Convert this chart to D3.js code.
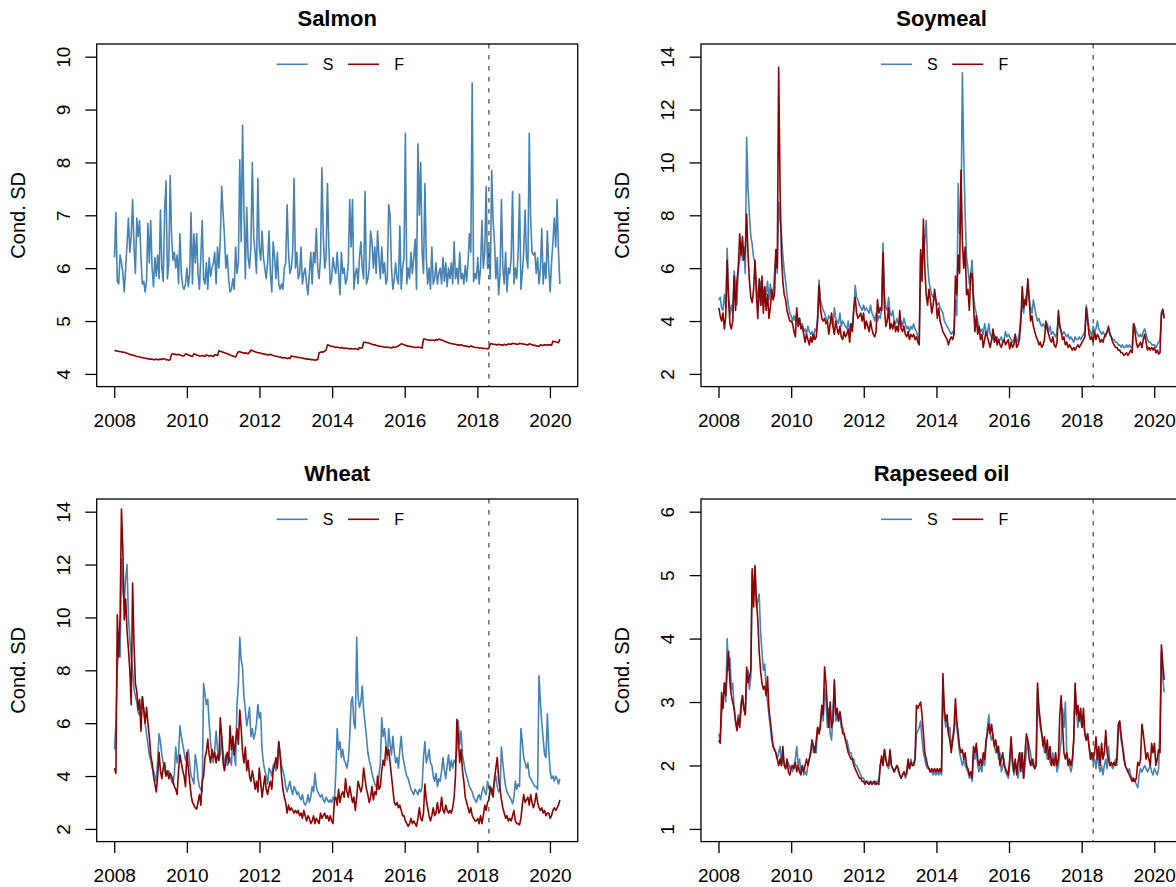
<!DOCTYPE html>
<html>
<head>
<meta charset="utf-8">
<script src="https://cdn.jsdelivr.net/npm/d3@7"></script>
<style>
  body { margin: 0; background: #fff; }
  svg { display: block; }
  text { font-family: "Liberation Sans", Arial, Helvetica, sans-serif; }
</style>
</head>
<body>
<svg id="chart" width="1176" height="887"></svg>
<script>
// Conditional standard deviation, spot (S) and futures (F), bi-weekly from 2008-01-04 to 2020-04-10.
// Each row below holds one year of observations (26 per row, 9 in the last row).

const salmonS = [
  6.2, 7.05, 5.75, 5.7, 6.25, 6.1, 5.9, 5.55, 6.0, 6.45, 6.95, 6.3, 6.6, 7.3, 6.4, 5.9, 6.95, 6.6, 6.9, 6.2, 5.7, 5.75, 5.55, 5.75, 6.85, 6.1,
  6.9, 6.0, 5.65, 6.2, 5.85, 6.25, 5.8, 7.1, 6.0, 5.75, 7.05, 7.65, 5.8, 6.1, 7.75, 6.6, 6.15, 6.3, 6.0, 6.25, 5.7, 6.65, 5.9, 5.65, 5.6, 5.7,
  6.0, 5.65, 5.9, 7.05, 5.7, 6.65, 6.1, 6.65, 5.9, 5.6, 6.2, 6.9, 5.8, 5.7, 6.1, 5.6, 6.2, 5.85, 6.0, 6.1, 6.3, 5.7, 6.4, 6.0, 6.55, 7.55,
  7.05, 6.6, 6.0, 6.25, 5.8, 5.55, 5.6, 5.8, 5.6, 6.4, 5.9, 6.1, 8.05, 6.5, 8.7, 7.1, 5.8, 7.15, 6.2, 6.0, 6.4, 8.0, 6.6, 6.3, 5.9, 7.7,
  6.4, 6.15, 6.7, 6.2, 6.0, 5.8, 6.1, 6.7, 5.9, 5.55, 6.5, 6.2, 5.8, 6.3, 5.7, 5.6, 5.7, 5.6, 6.0, 6.1, 7.2, 6.3, 5.9, 6.0, 6.3, 7.7,
  6.0, 6.3, 5.8, 5.9, 6.4, 5.7, 5.9, 6.0, 5.7, 5.5, 5.9, 6.3, 5.7, 6.3, 6.1, 6.75, 6.0, 5.8, 6.2, 7.9, 6.6, 6.0, 6.2, 7.6, 6.4, 5.7,
  5.8, 6.2, 6.0, 5.9, 6.3, 5.9, 5.5, 6.3, 5.9, 6.0, 5.7, 5.8, 6.1, 7.3, 6.4, 7.3, 5.6, 5.9, 6.0, 5.7, 6.2, 6.5, 6.0, 5.8, 7.45, 5.7,
  5.8, 6.0, 6.7, 6.5, 6.0, 6.4, 5.9, 6.7, 6.2, 5.8, 6.4, 5.9, 6.1, 5.7, 5.8, 7.2, 7.0, 6.0, 5.6, 5.8, 6.1, 5.8, 5.7, 6.8, 5.6, 6.0,
  6.2, 8.55, 5.7, 6.0, 5.8, 6.3, 5.9, 6.2, 6.55, 5.6, 8.35, 7.0, 8.0, 6.3, 5.9, 7.6, 6.2, 5.7, 6.0, 5.6, 6.4, 5.7, 5.8, 6.1, 5.7, 5.9,
  6.0, 5.7, 6.2, 5.75, 6.1, 5.65, 6.0, 5.8, 6.1, 5.7, 6.5, 5.8, 6.0, 5.7, 6.3, 5.8, 5.9, 5.7, 6.05, 5.75, 6.1, 6.65, 6.3, 9.5, 5.75, 5.9,
  5.8, 6.2, 5.7, 6.0, 6.9, 6.0, 6.3, 7.55, 6.0, 6.4, 5.8, 7.85, 6.9, 6.5, 5.8, 6.2, 5.5, 5.9, 7.3, 6.0, 5.7, 6.3, 5.55, 6.0, 5.9, 6.2,
  7.45, 5.7, 6.0, 5.8, 6.3, 7.4, 5.6, 5.9, 6.3, 7.1, 6.2, 6.0, 8.55, 6.9, 6.3, 6.25, 6.3, 5.9, 6.2, 5.7, 6.0, 6.75, 5.7, 6.1, 5.8, 6.7,
  6.0, 5.55, 6.1, 6.5, 6.95, 6.4, 7.3, 6.3, 5.7
];
const salmonF = [
  4.44, 4.44, 4.43, 4.43, 4.42, 4.42, 4.41, 4.41, 4.40, 4.39, 4.38, 4.37, 4.36, 4.36, 4.35, 4.34, 4.33, 4.33, 4.32, 4.31, 4.31, 4.30, 4.30, 4.29, 4.29, 4.28,
  4.28, 4.28, 4.27, 4.27, 4.28, 4.27, 4.27, 4.28, 4.27, 4.29, 4.28, 4.27, 4.27, 4.26, 4.27, 4.37, 4.38, 4.37, 4.37, 4.36, 4.37, 4.36, 4.35, 4.34, 4.34, 4.38,
  4.37, 4.36, 4.35, 4.34, 4.33, 4.38, 4.37, 4.36, 4.35, 4.34, 4.34, 4.35, 4.34, 4.33, 4.36, 4.35, 4.34, 4.35, 4.34, 4.33, 4.36, 4.36, 4.35, 4.44, 4.43, 4.42,
  4.41, 4.40, 4.39, 4.38, 4.37, 4.36, 4.35, 4.34, 4.33, 4.32, 4.38, 4.42, 4.42, 4.41, 4.40, 4.39, 4.40, 4.39, 4.38, 4.41, 4.45, 4.44, 4.43, 4.42, 4.41, 4.40,
  4.40, 4.39, 4.38, 4.38, 4.37, 4.37, 4.36, 4.36, 4.37, 4.36, 4.35, 4.34, 4.34, 4.33, 4.32, 4.32, 4.31, 4.30, 4.31, 4.30, 4.29, 4.30, 4.29, 4.34, 4.33, 4.33,
  4.32, 4.32, 4.31, 4.31, 4.30, 4.30, 4.29, 4.29, 4.28, 4.28, 4.28, 4.27, 4.27, 4.27, 4.26, 4.27, 4.27, 4.40, 4.41, 4.42, 4.41, 4.43, 4.45, 4.55, 4.54, 4.53,
  4.52, 4.52, 4.51, 4.50, 4.51, 4.50, 4.49, 4.50, 4.49, 4.48, 4.49, 4.48, 4.48, 4.47, 4.48, 4.47, 4.47, 4.48, 4.47, 4.46, 4.50, 4.49, 4.49, 4.60, 4.60, 4.59,
  4.59, 4.58, 4.57, 4.56, 4.55, 4.55, 4.54, 4.53, 4.53, 4.52, 4.52, 4.51, 4.51, 4.50, 4.51, 4.50, 4.50, 4.49, 4.51, 4.50, 4.51, 4.52, 4.53, 4.55, 4.57, 4.56,
  4.55, 4.54, 4.53, 4.53, 4.52, 4.52, 4.51, 4.51, 4.50, 4.50, 4.51, 4.50, 4.50, 4.49, 4.66, 4.66, 4.65, 4.64, 4.64, 4.63, 4.64, 4.64, 4.63, 4.65, 4.64, 4.66,
  4.65, 4.64, 4.63, 4.62, 4.61, 4.60, 4.59, 4.58, 4.57, 4.57, 4.56, 4.56, 4.55, 4.55, 4.54, 4.55, 4.54, 4.53, 4.53, 4.52, 4.52, 4.51, 4.53, 4.52, 4.51, 4.50,
  4.50, 4.50, 4.49, 4.49, 4.49, 4.48, 4.48, 4.48, 4.47, 4.49, 4.57, 4.57, 4.56, 4.56, 4.55, 4.55, 4.56, 4.55, 4.55, 4.54, 4.56, 4.55, 4.55, 4.57, 4.56, 4.56,
  4.58, 4.57, 4.57, 4.56, 4.56, 4.58, 4.57, 4.57, 4.56, 4.56, 4.55, 4.55, 4.57, 4.56, 4.55, 4.54, 4.54, 4.53, 4.53, 4.52, 4.55, 4.54, 4.54, 4.55, 4.55, 4.54,
  4.55, 4.55, 4.54, 4.62, 4.61, 4.61, 4.60, 4.59, 4.66
];

const soymealS = [
  4.8, 4.9, 4.5, 4.4, 5.0, 4.5, 6.75, 5.0, 4.2, 4.6, 4.3, 5.9, 5.4, 4.6, 6.0, 6.3, 6.8, 6.3, 6.8, 5.8, 10.95, 9.0, 8.0, 7.2, 6.9, 6.4,
  6.2, 5.4, 4.9, 5.2, 5.5, 4.6, 5.1, 5.3, 5.0, 5.5, 4.8, 5.4, 4.9, 5.0, 5.8, 6.6, 5.8, 8.5, 7.8, 7.3, 6.5, 5.9, 5.5, 5.0, 4.6, 4.3,
  4.2, 4.0, 4.2, 4.0, 4.3, 3.9, 4.1, 3.8, 3.9, 3.6, 3.7, 3.5, 3.8, 3.6, 3.5, 3.6, 3.3, 3.7, 3.6, 4.2, 5.55, 4.8, 4.6, 4.4, 4.3, 4.1,
  4.0, 4.2, 4.1, 4.0, 3.8, 4.5, 4.1, 4.0, 3.9, 4.3, 3.8, 4.0, 3.9, 3.8, 3.7, 4.0, 3.6, 3.9, 3.8, 4.4, 5.35, 4.9, 4.8, 4.6, 4.5, 4.4,
  4.6, 4.4, 4.5, 4.4, 4.3, 4.6, 4.3, 4.2, 4.0, 4.3, 4.0, 4.2, 4.1, 4.5, 6.95, 5.0, 4.5, 4.4, 4.9, 4.3, 4.2, 4.4, 4.0, 3.9, 4.1, 3.9,
  3.9, 4.0, 3.8, 4.1, 3.9, 3.7, 3.8, 3.6, 3.8, 3.7, 3.9, 3.7, 3.6, 3.4, 3.2, 6.5, 5.9, 6.6, 7.0, 7.8, 6.2, 5.5, 5.2, 5.0, 4.9, 4.8,
  4.8, 4.6, 4.7, 4.5, 4.4, 4.3, 4.0, 3.9, 3.8, 3.7, 3.6, 3.5, 3.6, 3.5, 4.8, 4.2, 9.2, 7.3, 7.8, 13.4, 10.2, 8.0, 6.4, 6.0, 5.4, 5.8,
  6.3, 5.0, 4.5, 4.3, 4.0, 3.8, 3.6, 3.7, 3.5, 3.9, 3.6, 3.5, 3.9, 3.5, 3.4, 3.3, 3.5, 3.3, 3.4, 3.2, 3.3, 3.4, 3.2, 3.3, 3.6, 3.4,
  3.5, 3.4, 3.3, 3.2, 3.3, 3.5, 3.2, 3.3, 3.6, 4.2, 4.6, 4.3, 4.8, 5.0, 5.4, 4.9, 4.5, 4.3, 4.8, 4.5, 4.2, 4.0, 4.1, 3.9, 3.8, 3.9,
  3.8, 3.7, 3.9, 3.6, 3.8, 3.5, 3.6, 3.5, 3.4, 3.6, 4.2, 3.8, 3.6, 3.5, 3.6, 3.5, 3.4, 3.5, 3.3, 3.4, 3.3, 3.2, 3.4, 3.3, 3.3, 3.4,
  3.3, 3.4, 3.5, 3.6, 4.6, 4.2, 3.7, 3.6, 3.4, 3.8, 3.6, 3.7, 4.0, 3.7, 3.6, 3.5, 3.6, 3.5, 3.4, 3.6, 3.7, 3.5, 3.4, 3.3, 3.3, 3.2,
  3.2, 3.1, 3.1, 3.0, 3.1, 3.0, 3.0, 3.1, 3.0, 3.1, 3.0, 3.0, 3.9, 3.8, 3.6, 3.5, 3.4, 3.5, 3.4, 3.6, 3.7, 3.5, 3.3, 3.2, 3.2, 3.1,
  3.1, 3.1, 3.0, 3.1, 3.2, 3.3, 4.2, 4.4, 4.1
];
const soymealF = [
  4.5, 4.2, 4.0, 4.3, 3.7, 4.2, 6.3, 4.8, 3.9, 3.7, 4.0, 5.7, 4.4, 5.5, 6.0, 7.3, 6.5, 7.2, 6.3, 6.6, 8.05, 6.5, 5.5, 4.9, 4.7, 5.2,
  6.3, 5.0, 4.1, 5.6, 4.6, 5.7, 4.3, 5.3, 4.4, 5.0, 4.1, 4.5, 5.2, 4.8, 5.0, 6.7, 6.0, 13.6, 9.0, 6.5, 5.5, 5.0, 4.8, 4.4, 4.2, 4.0,
  4.0, 3.9, 3.6, 3.4, 4.5, 3.8, 4.1, 3.7, 3.8, 3.5, 3.2, 3.5, 3.3, 3.1, 3.4, 3.2, 3.5, 3.3, 3.4, 4.0, 5.35, 4.5, 4.1, 4.0, 4.1, 3.9,
  4.0, 3.5, 3.9, 4.3, 3.8, 3.5, 4.0, 3.7, 3.5, 3.8, 3.4, 3.3, 3.6, 3.4, 3.5, 3.7, 3.2, 3.9, 3.6, 4.5, 4.9, 4.3, 4.1, 4.2, 4.3, 4.0,
  4.3, 3.7, 4.0, 3.8, 3.6, 4.0, 3.7, 3.5, 3.4, 3.6, 4.8, 4.3, 4.5, 4.4, 6.6, 4.5, 3.8, 4.0, 4.5, 3.7, 3.9, 3.7, 4.0, 3.6, 3.8, 3.6,
  4.4, 3.7, 3.6, 3.8, 3.5, 3.4, 3.6, 3.3, 3.5, 3.4, 3.5, 3.3, 3.4, 3.2, 3.1, 6.7, 5.5, 7.85, 6.0, 5.0, 4.6, 5.2, 4.8, 4.3, 4.6, 5.2,
  4.8, 4.1, 4.5, 4.0, 3.8, 3.6, 3.5, 3.4, 3.3, 3.1, 3.3, 3.4, 3.3, 3.5, 5.7, 5.0, 6.5, 5.8, 9.7, 7.0, 6.0, 6.8, 5.0, 5.2, 4.4, 5.8,
  5.8, 4.6, 3.6, 4.2, 3.5, 3.8, 3.3, 3.5, 3.0, 3.3, 3.6, 3.4, 3.2, 3.0, 3.3, 3.7, 3.2, 3.4, 3.1, 3.3, 3.1, 3.0, 3.2, 3.3, 3.1, 3.2,
  3.3, 2.95, 3.2, 3.0, 3.1, 3.5, 3.0, 3.1, 3.3, 4.0, 5.3, 4.5, 4.8, 4.6, 5.6, 4.8, 4.0, 4.2, 3.8, 3.6, 3.4, 3.3, 3.1, 3.2, 3.0, 3.1,
  3.3, 4.0, 3.7, 3.5, 3.3, 3.2, 3.4, 3.1, 3.0, 3.2, 4.4, 3.8, 3.6, 3.3, 3.4, 3.1, 3.2, 3.0, 3.1, 3.0, 2.9, 3.0, 2.9, 3.0, 3.1, 3.0,
  3.1, 3.2, 3.3, 3.4, 4.5, 4.0, 3.5, 3.3, 3.4, 3.2, 3.6, 3.3, 3.5, 3.4, 3.2, 3.3, 3.2, 3.4, 3.5, 3.6, 3.8, 3.5, 3.4, 3.2, 3.1, 3.0,
  3.0, 2.9, 2.9, 2.8, 2.8, 2.7, 2.75, 2.8, 2.7, 2.8, 2.9, 2.8, 3.9, 3.6, 3.2, 3.0, 3.1, 3.2, 3.0, 3.3, 3.5, 3.2, 2.9, 3.0, 2.9, 3.0,
  2.9, 3.0, 2.8, 2.9, 2.75, 2.8, 4.3, 4.45, 4.1
];

const wheatS = [
  5.0, 6.0, 8.0, 9.0, 8.5, 12.2, 11.0, 10.5, 11.5, 12.0, 10.0, 9.2, 8.5, 8.0, 7.3, 7.0, 6.8, 6.4, 6.3, 6.6, 7.0, 6.5, 6.0, 5.6, 5.2, 4.8,
  4.6, 4.3, 4.2, 4.0, 3.8, 4.6, 5.6, 5.3, 4.8, 4.5, 4.2, 4.0, 4.1, 4.2, 4.0, 3.8, 3.7, 4.1, 5.1, 4.5, 4.8, 5.9, 5.5, 5.2, 4.9, 4.6,
  4.8, 5.0, 4.5, 4.0, 3.9, 3.7, 4.8, 4.5, 3.9, 3.6, 3.5, 3.4, 7.5, 7.1, 6.7, 6.9, 6.0, 5.3, 4.8, 4.5, 5.0, 5.7, 5.0, 4.6, 4.8, 5.5,
  4.9, 4.3, 4.8, 4.4, 4.5, 4.7, 4.4, 5.5, 4.8, 4.4, 6.7, 7.5, 9.25, 8.4, 8.1, 7.0, 6.5, 5.9, 6.2, 6.6, 5.5, 5.8, 5.4, 5.6, 6.0, 6.7,
  6.2, 6.4, 5.0, 4.5, 4.2, 4.0, 3.7, 4.3, 4.2, 4.0, 4.4, 4.5, 4.2, 4.4, 5.3, 4.8, 4.4, 4.2, 4.0, 3.6, 3.4, 3.6, 3.8, 3.5, 3.3, 3.6,
  3.5, 3.3, 3.4, 3.2, 3.1, 3.3, 3.0, 2.9, 3.0, 3.3, 3.0, 3.2, 3.6, 3.4, 4.1, 3.6, 3.4, 3.3, 3.2, 3.3, 3.1, 3.0, 3.2, 3.1, 3.0, 3.1,
  3.0, 3.2, 3.1, 4.1, 5.8, 5.0, 5.3, 4.7, 5.0, 4.6, 4.5, 4.3, 4.6, 5.5, 6.8, 7.0, 6.0, 5.8, 9.25, 7.0, 6.6, 6.8, 7.4, 6.5, 6.0, 5.5,
  4.9, 4.6, 4.4, 4.1, 3.9, 3.7, 3.6, 3.5, 4.0, 4.5, 6.2, 5.5, 5.8, 5.2, 4.6, 5.8, 5.2, 4.8, 5.5, 4.9, 4.5, 4.7, 4.3, 5.0, 5.5, 4.8,
  4.5, 4.2, 4.0, 3.9, 3.7, 3.5, 3.4, 3.3, 3.5, 3.4, 3.3, 3.5, 3.4, 3.6, 4.7, 5.3, 4.5, 4.7, 5.0, 4.5, 4.4, 4.0, 3.8, 4.1, 3.6, 3.9,
  3.8, 4.2, 4.7, 4.2, 3.9, 4.4, 4.8, 4.2, 4.6, 4.3, 4.6, 4.5, 5.0, 6.1, 5.2, 5.7, 4.8, 4.5, 4.2, 4.0, 3.8, 3.6, 3.5, 3.4, 3.2, 3.1,
  3.0, 3.2, 3.3, 3.1, 3.4, 3.6, 3.4, 3.3, 3.8, 3.6, 3.5, 3.3, 3.5, 3.8, 4.0, 3.6, 3.4, 3.5, 5.1, 4.5, 4.0, 3.6, 3.4, 3.3, 3.2, 3.1,
  2.95, 3.2, 3.8, 3.5, 3.7, 3.6, 5.8, 5.3, 4.7, 4.5, 4.3, 4.5, 4.0, 3.9, 3.8, 3.7, 3.6, 3.6, 3.5, 7.8, 6.8, 6.0, 5.4, 4.8, 4.7, 6.35,
  5.0, 4.2, 3.9, 4.0, 3.8, 4.0, 3.9, 3.7, 3.9
];
const wheatF = [
  4.3, 4.1, 10.1, 8.5, 10.0, 14.1, 12.5, 9.9, 10.7, 9.5, 8.8, 8.0, 6.7, 11.3, 9.0, 7.5, 7.2, 6.5, 6.9, 5.7, 7.0, 6.5, 6.0, 6.6, 6.0, 5.5,
  4.8, 4.5, 4.0, 3.7, 3.4, 4.0, 4.9, 4.2, 3.9, 4.3, 4.5, 4.0, 4.2, 3.9, 4.1, 4.0, 3.8, 3.6, 3.5, 3.3, 4.2, 4.8, 4.5, 4.2, 4.0, 3.6,
  4.9, 4.3, 3.8, 3.3, 3.0, 2.9, 2.8, 2.75, 3.0, 3.3, 2.9, 3.8, 4.0, 4.7, 4.9, 5.4, 4.8, 4.5, 5.0, 4.7, 4.9, 4.5, 4.8, 4.6, 6.2, 5.5,
  4.5, 4.2, 4.6, 4.9, 4.5, 5.9, 5.0, 5.5, 4.8, 5.3, 5.8, 5.2, 6.5, 5.8, 4.9, 4.5, 5.1, 4.2, 4.6, 4.0, 3.8, 4.2, 3.9, 3.5, 3.8, 3.4,
  4.3, 3.8, 3.2, 3.6, 4.0, 3.5, 3.3, 3.6, 3.8, 3.5, 4.2, 4.4, 4.7, 4.3, 5.3, 4.8, 4.0, 3.5, 3.2, 3.0, 2.6, 2.9, 2.7, 2.8, 2.7, 2.6,
  2.7, 2.6, 2.7, 2.5, 2.6, 2.4, 2.7, 2.5, 2.3, 2.5, 2.4, 2.2, 2.3, 2.5, 2.2, 2.4, 2.3, 2.2, 2.6, 2.4, 2.5, 2.6, 2.4, 2.5, 2.3, 2.5,
  2.3, 2.2, 3.1, 3.2, 2.9, 3.5, 3.0, 3.3, 3.4, 3.2, 3.9, 3.4, 3.2, 3.6, 3.3, 3.0, 3.2, 2.7, 3.2, 3.8, 3.6, 3.4, 3.6, 4.3, 3.9, 3.5,
  3.3, 3.0, 3.2, 3.6, 3.1, 3.4, 3.3, 4.0, 3.5, 3.6, 4.2, 4.6, 4.4, 5.1, 4.8, 5.0, 4.5, 4.0, 3.5, 3.0, 2.9, 3.0, 2.8, 2.9, 2.7, 2.5,
  2.5, 2.3, 2.2, 2.1, 2.2, 2.4, 2.2, 2.3, 2.2, 2.1, 2.4, 2.8, 2.4, 2.3, 2.6, 3.7, 3.1, 2.8, 2.5, 2.3, 2.5, 2.8, 2.5, 2.6, 3.0, 2.6,
  2.7, 3.2, 2.7, 2.6, 2.9, 2.7, 2.6, 2.7, 2.6, 2.8, 3.2, 4.0, 6.15, 5.5, 4.5, 5.0, 4.2, 3.8, 3.2, 3.0, 2.8, 2.6, 2.8, 2.5, 2.4, 2.3,
  2.3, 2.4, 2.2, 2.5, 2.2, 2.5, 2.9, 2.7, 3.0, 3.1, 3.6, 3.5, 3.2, 3.9, 4.3, 4.7, 3.9, 3.5, 3.1, 2.8, 2.6, 2.4, 2.5, 2.3, 2.4, 2.3,
  2.5, 2.7, 2.3, 2.2, 2.2, 2.15, 2.4, 2.9, 3.3, 3.0, 3.1, 3.2, 2.9, 3.3, 3.0, 2.8, 3.0, 3.35, 3.0, 2.8, 2.7, 2.8, 2.6, 2.7, 2.5, 2.6,
  2.6, 2.4, 2.5, 2.7, 2.8, 2.7, 2.8, 2.9, 3.1
];

const rapeseedS = [
  2.5, 2.4, 2.8, 3.0, 3.3, 3.0, 4.0, 3.5, 3.7, 3.2, 3.3, 2.9, 2.7, 2.6, 2.8, 2.7, 3.0, 3.1, 2.9, 2.8, 3.3, 3.5, 3.2, 3.4, 5.05, 4.7,
  5.0, 4.5, 4.6, 4.7, 4.1, 3.8, 3.5, 3.6, 3.2, 3.0, 2.8, 2.6, 2.4, 2.3, 2.25, 2.2, 2.1, 2.2, 2.3, 2.0, 2.1, 2.05, 1.95, 2.0, 2.05, 1.95,
  2.0, 1.9, 2.0, 2.1, 2.3, 2.0, 2.1, 1.9, 2.0, 1.85, 1.9, 1.85, 2.0, 2.1, 2.2, 2.4, 2.2, 2.3, 2.2, 2.6, 2.5, 2.7, 2.9, 2.7, 3.2, 3.0,
  2.6, 2.9, 2.5, 2.4, 2.8, 3.3, 2.7, 2.8, 2.7, 2.8, 2.6, 2.6, 2.5, 2.4, 2.4, 2.3, 2.2, 2.2, 2.1, 2.1, 2.0, 2.0, 1.95, 1.9, 1.85, 1.8,
  1.8, 1.75, 1.75, 1.75, 1.7, 1.75, 1.72, 1.75, 1.7, 1.75, 1.72, 1.8, 2.0, 2.1, 2.0, 2.25, 2.1, 2.0, 1.95, 2.2, 2.0, 1.95, 1.9, 1.95, 2.0, 1.9,
  1.85, 1.8, 1.85, 1.9, 1.8, 1.85, 2.05, 1.95, 2.1, 2.0, 2.05, 2.1, 2.5, 2.55, 2.6, 2.7, 2.4, 2.2, 2.1, 2.0, 1.95, 1.95, 1.9, 1.9, 1.85, 1.9,
  1.85, 1.9, 1.85, 1.9, 1.85, 3.3, 2.8, 2.6, 2.7, 2.5, 2.6, 2.3, 2.4, 2.5, 2.8, 2.6, 2.4, 2.2, 2.1, 2.0, 2.1, 2.0, 1.95, 1.9, 1.8, 1.85,
  1.75, 2.2, 2.1, 2.3, 2.0, 1.9, 2.0, 1.9, 2.1, 2.0, 2.3, 2.6, 2.8, 2.5, 2.4, 2.5, 2.3, 2.2, 2.3, 2.1, 2.2, 1.9, 2.0, 2.1, 1.9, 1.85,
  1.8, 2.0, 2.3, 2.0, 1.85, 2.05, 1.95, 1.8, 2.0, 2.2, 2.1, 1.8, 2.0, 2.2, 2.4, 2.3, 2.2, 2.0, 2.1, 1.95, 2.0, 3.2, 2.8, 2.6, 2.5, 2.4,
  2.2, 2.3, 2.1, 2.2, 2.05, 2.0, 2.2, 2.0, 2.1, 1.9, 2.0, 2.2, 2.4, 2.9, 2.6, 3.0, 2.2, 2.1, 2.0, 1.9, 2.0, 2.4, 3.2, 2.9, 2.6, 2.8,
  2.7, 2.6, 2.7, 2.5, 2.4, 2.5, 2.3, 2.2, 2.1, 2.05, 2.1, 1.95, 2.2, 2.0, 1.9, 2.0, 1.85, 2.0, 2.1, 1.95, 2.3, 2.0, 2.0, 1.95, 2.0, 2.1,
  2.0, 2.5, 2.7, 2.4, 2.3, 2.2, 2.0, 1.95, 1.9, 1.95, 1.85, 1.8, 1.75, 1.75, 1.7, 1.65, 1.85, 1.95, 1.9, 1.95, 2.0, 1.95, 1.9, 1.95, 2.0, 1.9,
  1.85, 1.95, 1.9, 1.85, 1.95, 2.6, 3.8, 3.4, 3.15
];
const rapeseedF = [
  2.4, 2.35, 3.15, 2.9, 3.3, 3.1, 3.5, 3.8, 3.3, 3.1, 3.0, 2.9, 2.7, 2.55, 2.75, 2.6, 2.9, 3.1, 2.9, 2.8, 3.55, 3.3, 3.4, 3.5, 5.1, 4.5,
  5.15, 4.6, 4.3, 3.8, 3.5, 3.3, 3.2, 3.25, 3.1, 3.4, 2.9, 2.7, 2.5, 2.3, 2.25, 2.2, 2.1, 2.0, 2.1, 2.0, 2.3, 2.0, 1.95, 2.1, 1.9, 1.85,
  1.95, 2.0, 1.95, 2.05, 1.9, 2.0, 1.9, 1.85, 2.0, 1.9, 2.0, 2.1, 2.0, 2.1, 2.2, 2.4, 2.3, 2.2, 2.4, 2.6, 2.5, 2.6, 2.95, 2.8, 3.55, 3.3,
  2.9, 2.6, 3.0, 2.6, 2.7, 3.35, 2.8, 2.9, 2.7, 2.85, 2.7, 2.5, 2.5, 2.4, 2.3, 2.2, 2.15, 2.1, 2.1, 2.0, 1.95, 1.9, 1.85, 1.8, 1.8, 1.75,
  1.75, 1.7, 1.75, 1.72, 1.7, 1.75, 1.7, 1.72, 1.75, 1.7, 1.72, 1.7, 2.0, 2.15, 2.0, 2.25, 2.1, 2.0, 2.0, 2.25, 2.0, 1.95, 1.9, 1.95, 2.0, 1.95,
  1.85, 1.8, 1.85, 1.9, 1.85, 1.9, 2.1, 1.95, 2.05, 2.0, 2.0, 2.1, 2.95, 2.9, 2.95, 3.0, 2.8, 2.5, 2.2, 2.1, 2.0, 1.95, 1.9, 1.95, 1.9, 1.95,
  1.9, 1.95, 1.9, 1.95, 1.9, 3.45, 2.9, 2.7, 2.8, 2.5, 2.4, 2.2, 2.4, 2.6, 3.05, 2.7, 2.5, 2.3, 2.2, 2.25, 2.1, 2.2, 2.0, 1.95, 1.85, 1.9,
  1.8, 2.3, 2.2, 2.35, 2.1, 2.0, 2.1, 2.0, 2.2, 2.1, 2.4, 2.5, 2.65, 2.5, 2.65, 2.45, 2.3, 2.4, 2.2, 2.3, 2.0, 2.1, 2.2, 2.0, 1.95, 1.9,
  1.85, 2.1, 2.45, 2.1, 1.9, 2.1, 1.85, 2.05, 2.2, 1.9, 2.2, 1.8, 2.2, 2.5, 2.4, 2.1, 2.0, 2.1, 2.0, 1.95, 2.0, 3.3, 2.9, 2.7, 2.5, 2.3,
  2.45, 2.2, 2.4, 2.1, 2.3, 2.0, 2.1, 2.0, 2.2, 2.0, 2.1, 2.8, 3.1, 2.6, 2.2, 2.1, 2.2, 2.0, 2.1, 2.0, 2.1, 2.4, 3.3, 2.8, 2.95, 2.7,
  2.9, 2.6, 2.9, 2.5, 2.4, 2.5, 2.3, 2.1, 2.2, 2.1, 2.2, 2.45, 2.1, 2.3, 2.0, 2.35, 2.1, 2.2, 2.55, 2.2, 2.1, 2.0, 2.05, 2.0, 2.05, 2.0,
  2.1, 2.65, 2.7, 2.5, 2.3, 2.1, 2.0, 1.95, 1.9, 1.85, 1.8, 1.75, 1.8, 1.75, 1.8, 2.05, 2.0, 2.1, 2.65, 2.5, 2.3, 2.1, 2.2, 2.1, 2.0, 2.35,
  2.2, 2.35, 2.0, 2.1, 2.25, 2.2, 3.9, 3.6, 3.35
];

const panelTitles = ["Salmon", "Soymeal", "Wheat", "Rapeseed oil"];
const salmonTicks = [4, 5, 6, 7, 8, 9, 10];
const soymealTicks = [2, 4, 6, 8, 10, 12, 14];
const wheatTicks = [2, 4, 6, 8, 10, 12, 14];
const rapeseedTicks = [1, 2, 3, 4, 5, 6];
const xTickYears = [2008, 2010, 2012, 2014, 2016, 2018, 2020];
const legendLabels = ["S", "F"];
const yAxisLabel = "Cond. SD";
const breakDate = new Date(Date.UTC(2018, 3, 27));

// observation dates: every 14 days from the first week of 2008
const firstDate = new Date(Date.UTC(2008, 0, 4));
const dates = d3.range(salmonS.length).map(i => d3.utcDay.offset(firstDate, 14 * i));

const COL_S = "#4682B4", COL_F = "#8B0000";
const FONT_TICK = 19, FONT_LAB = 20, FONT_TITLE = 22, FONT_LEG = 16;

const svg = d3.select("#chart");
svg.append("rect").attr("width", 1176).attr("height", 887).attr("fill", "#fff");

const boxW = 481, boxH = 342.6;
const colX = [96.7, 701], rowY = [44, 499];

const panels = [
  { title: panelTitles[0], s: salmonS,   f: salmonF,   lim: [4, 10], ticks: salmonTicks,   col: 0, row: 0 },
  { title: panelTitles[1], s: soymealS,  f: soymealF,  lim: [2, 14], ticks: soymealTicks,  col: 1, row: 0 },
  { title: panelTitles[2], s: wheatS,    f: wheatF,    lim: [2, 14], ticks: wheatTicks,    col: 0, row: 1 },
  { title: panelTitles[3], s: rapeseedS, f: rapeseedF, lim: [1, 6],  ticks: rapeseedTicks, col: 1, row: 1 }
];

const tMin = dates[0], tMax = dates[dates.length - 1], tSpan = tMax - tMin;

panels.forEach(p => {
  const x0 = colX[p.col], y0 = rowY[p.row];
  const g = svg.append("g").attr("transform", `translate(${x0},${y0})`);

  const x = d3.scaleUtc()
    .domain([new Date(+tMin - 0.04 * tSpan), new Date(+tMax + 0.04 * tSpan)])
    .range([0, boxW]);
  const pad = 0.04 * (p.lim[1] - p.lim[0]);
  const y = d3.scaleLinear().domain([p.lim[0] - pad, p.lim[1] + pad]).range([boxH, 0]);

  // x axis
  const xAxis = d3.axisBottom(x)
    .tickValues(xTickYears.map(yr => new Date(Date.UTC(yr, 0, 1))))
    .tickFormat(d3.utcFormat("%Y"))
    .tickSize(11.5).tickPadding(15.8);
  const gx = g.append("g").attr("transform", `translate(0,${boxH})`).call(xAxis);
  gx.select(".domain").remove();
  gx.selectAll("line").attr("stroke", "#000").attr("stroke-width", 1.3);
  gx.selectAll("text").attr("fill", "#000").style("font-size", FONT_TICK + "px").attr("font-family", null);

  // y axis with labels rotated parallel to the axis
  const yAxis = d3.axisLeft(y).tickValues(p.ticks).tickFormat(d3.format("d")).tickSize(11.4);
  const gy = g.append("g").call(yAxis);
  gy.select(".domain").remove();
  gy.selectAll("line").attr("stroke", "#000").attr("stroke-width", 1.3);
  gy.selectAll("text")
    .attr("fill", "#000").style("font-size", FONT_TICK + "px").attr("font-family", null)
    .attr("transform", "rotate(-90)")
    .attr("x", 0).attr("y", -26.7).attr("dy", null)
    .attr("text-anchor", "middle");

  // axis title
  g.append("text")
    .attr("transform", `translate(${25 - 96.7},${boxH / 2}) rotate(-90)`)
    .attr("text-anchor", "middle")
    .style("font-size", FONT_LAB + "px")
    .text(yAxisLabel);

  // panel title
  g.append("text")
    .attr("x", boxW / 2).attr("y", -18)
    .attr("text-anchor", "middle")
    .style("font-size", FONT_TITLE + "px").style("font-weight", "bold")
    .text(p.title);

  // series
  const line = d3.line().x((d, i) => x(dates[i])).y(d => y(d));
  g.append("path").datum(p.s).attr("d", line)
    .attr("fill", "none").attr("stroke", COL_S).attr("stroke-width", 1.6).attr("stroke-linejoin", "round");
  g.append("path").datum(p.f).attr("d", line)
    .attr("fill", "none").attr("stroke", COL_F).attr("stroke-width", 1.6).attr("stroke-linejoin", "round");

  // break marker
  g.append("line")
    .attr("x1", x(breakDate)).attr("x2", x(breakDate))
    .attr("y1", 0).attr("y2", boxH)
    .attr("stroke", "#444").attr("stroke-width", 1.2).attr("stroke-dasharray", "4.5,6.5");

  // legend
  const cx = boxW / 2, ly = 20.3;
  const leg = [
    { label: legendLabels[0], color: COL_S, x1: cx - 60.5, tx: cx - 14.5 },
    { label: legendLabels[1], color: COL_F, x1: cx + 10.8, tx: cx + 57.1 }
  ];
  leg.forEach(l => {
    g.append("line").attr("x1", l.x1).attr("x2", l.x1 + 31).attr("y1", ly).attr("y2", ly)
      .attr("stroke", l.color).attr("stroke-width", 1.6);
    g.append("text").attr("x", l.tx).attr("y", ly + 5.7)
      .style("font-size", FONT_LEG + "px").text(l.label);
  });

  // plot frame
  g.append("rect").attr("width", boxW).attr("height", boxH)
    .attr("fill", "none").attr("stroke", "#000").attr("stroke-width", 1.3);
});
</script>
</body>
</html>
